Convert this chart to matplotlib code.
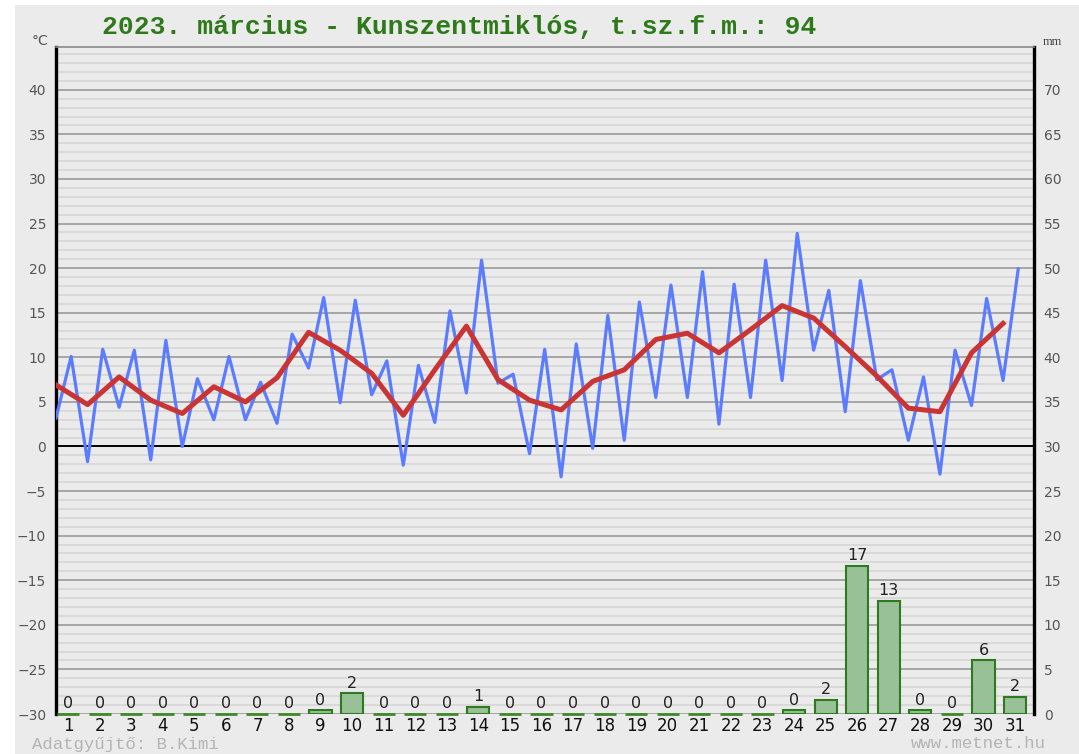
import matplotlib
matplotlib.use('Agg')
import matplotlib.pyplot as plt
from matplotlib.patches import Rectangle
import numpy as np

# daily data, March 2023
days = np.arange(1, 32)
tmin = [3.2, -1.7, 4.4, -1.5, 0.0, 3.0, 3.0, 2.6, 8.8, 4.9, 5.8, -2.1, 2.7, 6.0, 7.1, -0.8,
        -3.4, -0.2, 0.7, 5.5, 5.5, 2.5, 5.5, 7.4, 10.8, 3.9, 7.5, 0.7, -3.1, 4.6, 7.4]
tmax = [10.1, 10.9, 10.8, 11.9, 7.6, 10.1, 7.2, 12.6, 16.7, 16.4, 9.6, 9.1, 15.2, 20.9, 8.1, 10.9,
        11.5, 14.7, 16.2, 18.1, 19.6, 18.2, 20.9, 23.9, 17.5, 18.6, 8.6, 7.8, 10.8, 16.6, 19.9]
tavg = [6.9, 4.7, 7.8, 5.2, 3.7, 6.7, 5.0, 7.7, 12.8, 10.8, 8.2, 3.5, 8.6, 13.5, 7.5, 5.2,
        4.1, 7.3, 8.6, 12.0, 12.7, 10.5, 13.1, 15.8, 14.4, 11.2, 7.9, 4.3, 3.9, 10.5, 13.8]
rain = [0, 0, 0, 0, 0, 0, 0, 0, 0.4, 2.3, 0, 0, 0, 0.8, 0, 0,
        0, 0, 0, 0, 0, 0, 0, 0.4, 1.6, 16.6, 12.7, 0.4, 0, 6.0, 1.9]

title = '2023. március - Kunszentmiklós, t.sz.f.m.: 94'
W, H = 1079, 754
BG = '#ebebeb'
BAR_W = 0.7

fig = plt.figure(figsize=(W/100, H/100), dpi=100)
fig.patch.set_facecolor('white')
fig.patches.append(Rectangle((15/W, 0), 1, 1 - 5/H, transform=fig.transFigure,
                             facecolor=BG, edgecolor='none', zorder=-10))

ax = fig.add_axes([56/W, 1 - 714/H, (1034-56)/W, (714-47)/H])
ax.set_facecolor(BG)
ax.set_xlim(0.62, 31.6)
ax.set_ylim(-30, 44.8)

# horizontal grid
for v in range(-30, 45):
    if v == 0:
        ax.axhline(v, color='black', lw=1.4, zorder=1)
    elif v % 5 == 0:
        ax.axhline(v, color='#9a9a9a', lw=1.2, zorder=0.5)
    else:
        ax.axhline(v, color='#d6d6d6', lw=1.2, zorder=0.4)

# min/max alternating line
xs = np.ravel(np.column_stack([days - 0.38, days + 0.10]))
ys = np.ravel(np.column_stack([tmin, tmax]))
ax.plot(xs, ys, color='#5b7cff', lw=2.3, zorder=3)
ax.plot(days - 0.38, tavg, color='#c93434', lw=3.6, zorder=4, solid_joinstyle='round')

ax.set_yticks(range(-30, 41, 5))
ax.set_xticks(days)
ax.set_xticklabels([str(d) for d in days], fontsize=12, color='#111111')
ax.tick_params(axis='x', length=0, pad=2)
ax.tick_params(axis='y', length=0, pad=7, labelsize=10, labelcolor='#555555')
for s in ['left', 'right']:
    ax.spines[s].set_linewidth(2.4)
    ax.spines[s].set_color('black')
ax.spines['top'].set_color('#8a8a8a')
ax.spines['top'].set_linewidth(1.2)
ax.spines['bottom'].set_visible(False)

# precipitation on the right axis
ax2 = ax.twinx()
ax2.set_ylim(0, 74.8)
ax2.set_yticks(range(0, 71, 5))
ax2.tick_params(axis='y', length=0, pad=7, labelsize=10, labelcolor='#555555')
for s in ['left', 'right', 'top', 'bottom']:
    ax2.spines[s].set_visible(False)
rain = np.array(rain)
wet = rain > 0
ax2.bar(days[wet], rain[wet], width=BAR_W, color='#98c198', edgecolor='#2f7a1f', lw=1.5, zorder=2)
ax2.hlines(np.zeros((~wet).sum()), days[~wet] - BAR_W/2, days[~wet] + BAR_W/2,
           color='#3f8a2a', lw=2, zorder=2, clip_on=False)
for d, r in zip(days, rain):
    ax2.annotate(f'{r:.0f}', (d, r), xytext=(0, 2), textcoords='offset points',
                 ha='center', va='bottom', fontsize=11.5, color='#222222')

fig.text(459/W, 1 - 27/H, title, ha='center', va='center', fontsize=19,
         family='Liberation Mono', weight='bold', color='#2e7a1a')
fig.text(40/W, 1 - 41/H, '°C', ha='center', va='center', fontsize=10, color='#555555')
fig.text(1052/W, 1 - 42/H, 'mm', ha='center', va='center', fontsize=9,
         family='Liberation Serif', color='#444444')
fig.text(32/W, 1 - 744/H, 'Adatgyűjtő: B.Kimi', ha='left', va='center', fontsize=12.5,
         family='Liberation Mono', color='#b4b4b4')
fig.text(1046/W, 1 - 744/H, 'www.metnet.hu', ha='right', va='center', fontsize=12.5,
         family='Liberation Mono', color='#b4b4b4')

fig.savefig('out.png', dpi=100, facecolor=fig.get_facecolor())
